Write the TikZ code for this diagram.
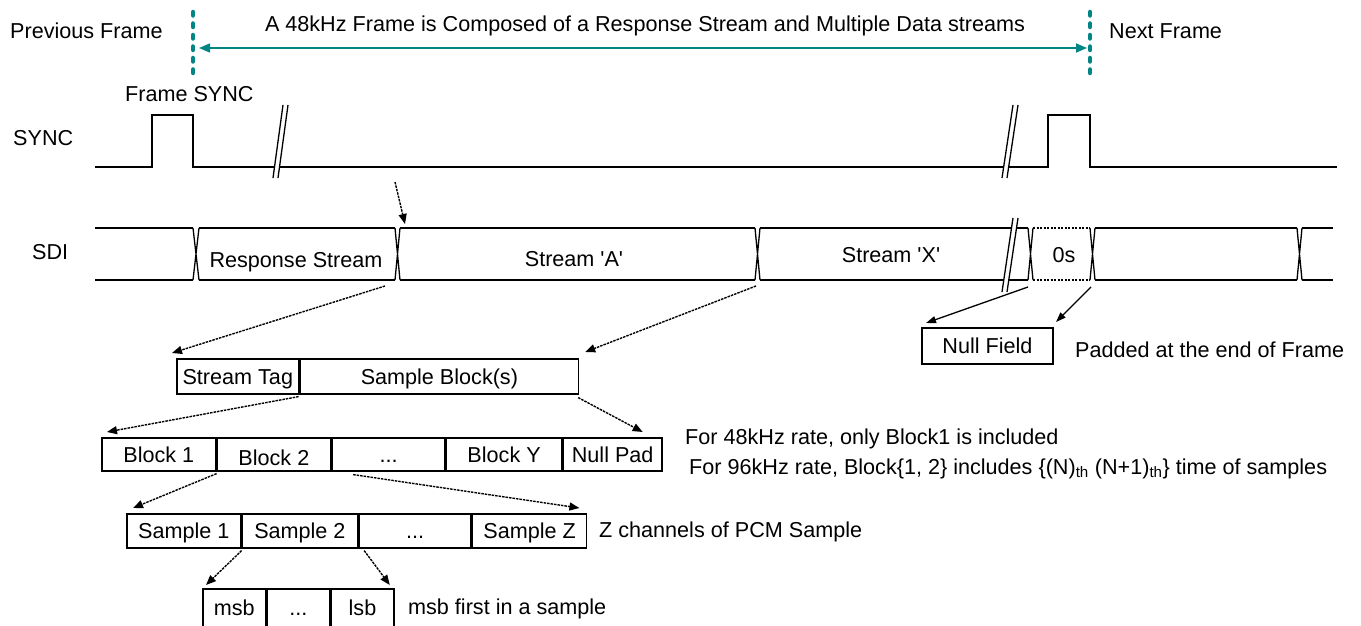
\documentclass[tikz,border=0pt]{standalone}
\usepackage{fontspec}
\setmainfont{Liberation Sans}
\usetikzlibrary{arrows.meta}
\definecolor{tealc}{RGB}{0,133,133}
\begin{document}
\begin{tikzpicture}[x=1pt,y=-1pt,
  font=\fontsize{21.6}{25}\selectfont,
  box/.style={draw, line width=1.6pt, inner sep=0pt, anchor=north west, text height=15.5pt, text depth=0pt},
  sig/.style={line width=1.3pt},
  dotsig/.style={line width=1.3pt, dash pattern=on 2pt off 1.5pt},
  ptr/.style={line width=1.4pt, dash pattern=on 2.5pt off 1pt, -{Triangle[length=10pt,width=8pt]}},
  sptr/.style={line width=1.3pt, -{Triangle[length=10pt,width=7pt]}},
  lbl/.style={inner sep=0pt, anchor=base west},
  brk/.style={fill=white, draw=none},
  framemark/.style={tealc, line width=4.5pt, line cap=round, dash pattern=on 3.5pt off 8pt}]

\useasboundingbox (0,0) rectangle (1361,626);

% ---- top frame markers
\coordinate (fl1) at (193,12); \coordinate (fl2) at (193,75);
\coordinate (fr1) at (1090,12); \coordinate (fr2) at (1090,75);
\draw[framemark] (fl1) -- (fl2);
\draw[framemark] (fr1) -- (fr2);
\coordinate (al) at (199,48); \coordinate (ar) at (1087,48);
\draw[tealc, line width=1.5pt, {Triangle[length=11pt,width=9pt]}-{Triangle[length=11pt,width=9pt]}] (al) -- (ar);

\node[lbl] (prev) at (10,39) {Previous Frame};
\node[lbl] (next) at (1109,39) {Next Frame};
\node[inner sep=0pt, anchor=base] (title) at (645,32) {A 48kHz Frame is Composed of a Response Stream and Multiple Data streams};
\node[lbl] (fsync) at (125,102) {Frame SYNC};
\node[lbl] (synclbl) at (13,145) {SYNC};
\node[lbl] (sdilbl) at (32,259) {SDI};

% ---- SYNC waveform
\draw[sig] (95,167) -- (152,167) -- (152,115) -- (193,115) -- (193,167) -- (1048,167) -- (1048,115) -- (1090,115) -- (1090,167) -- (1337,167);
\fill[brk] (283,105) -- (288,105) -- (278,178) -- (273,178) -- cycle;
\draw[sig] (283,105) -- (273,178) (288,105) -- (278,178);
\fill[brk] (1013,105) -- (1018,105) -- (1007,178) -- (1002,178) -- cycle;
\draw[sig] (1013,105) -- (1002,178) (1018,105) -- (1007,178);

% ---- SDI bus
\foreach \a/\b in {95/193, 199/395, 400/755, 760/1028, 1095/1297, 1302/1333}{
  \draw[sig] (\a,228) -- (\b,228) (\a,280) -- (\b,280);
}
\draw[dotsig] (1033,228) -- (1090,228) (1033,280) -- (1090,280);
\foreach \a/\b in {193/199, 395/400, 755/760, 1028/1033, 1090/1095, 1297/1302}{
  \draw[sig] (\a,228) -- (\b,280) (\b,228) -- (\a,280);
}
\fill[brk] (1013,218) -- (1018,218) -- (1007,292) -- (1002,292) -- cycle;
\draw[sig] (1013,218) -- (1002,292) (1018,218) -- (1007,292);

\node[inner sep=0pt, anchor=base] (rs) at (296,267) {Response Stream};
\node[inner sep=0pt, anchor=base] (sa) at (574,266) {Stream \textquotesingle A\textquotesingle};
\node[inner sep=0pt, anchor=base] (sx) at (891,262) {Stream \textquotesingle X\textquotesingle};
\node[inner sep=0pt, anchor=base] (zs) at (1064,262) {0s};

% ---- coordinates on the bus
\coordinate (top0) at (395,182);
\coordinate (top1) at (405,224);
\coordinate (rsb) at (385,286);
\coordinate (sab) at (756,286);
\coordinate (nfa) at (1028,287);
\coordinate (nfb) at (1091,287);

% ---- stream structure
\node[box, minimum width=122pt, minimum height=35pt] (tag) at (176,358) {Stream Tag};
\node[box, minimum width=278pt, minimum height=35pt] (blocks) at (tag.north east) {Sample Block(s)};

\node[box, minimum width=114pt, minimum height=33pt] (b1) at (101,437) {Block 1};
\node[box, minimum width=113pt, minimum height=33pt] (b2) at (b1.north east) {\raisebox{-3pt}{Block 2}};
\node[box, minimum width=113pt, minimum height=33pt] (bd) at (b2.north east) {...};
\node[box, minimum width=115pt, minimum height=33pt] (by) at (bd.north east) {Block Y};
\node[box, minimum width=99pt, minimum height=33pt] (np) at (by.north east) {Null Pad};

\node[box, minimum width=114pt, minimum height=34pt] (s1) at (126,513) {Sample 1};
\node[box, minimum width=115pt, minimum height=34pt] (s2) at (s1.north east) {Sample 2};
\node[box, minimum width=112pt, minimum height=34pt] (sd) at (s2.north east) {...};
\node[box, minimum width=114pt, minimum height=34pt] (sz) at (sd.north east) {Sample Z};

\node[box, minimum width=63pt, minimum height=38pt] (m1) at (202,588) {msb};
\node[box, minimum width=62pt, minimum height=38pt] (md) at (m1.north east) {...};
\node[box, minimum width=63pt, minimum height=38pt] (ml) at (md.north east) {lsb};

\node[box, line width=2pt, minimum width=131pt, minimum height=36pt] (nf) at (921,327) {Null Field};

% ---- side texts
\node[lbl] (pad) at (1075,357) {Padded at the end of Frame};
\node[lbl] (r48) at (685,444) {For 48kHz rate, only Block1 is included};
\node[lbl] (r96) at (689,474) {For 96kHz rate, Block\{1, 2\} includes \{(N)\textsubscript{th} (N+1)\textsubscript{th}\} time of samples};
\node[lbl] (zch) at (599,537) {Z channels of PCM Sample};
\node[lbl] (msbf) at (408,614) {msb first in a sample};

% ---- pointers
\draw[ptr] (top0) -- (top1);
\draw[ptr] (rsb) -- ([shift={(-4,-5)}]tag.north west);
\draw[ptr] (sab) -- ([shift={(6,-6)}]blocks.north east);
\draw[ptr] ([shift={(-1,2)}]tag.south east) -- ([shift={(6,-5)}]b1.north west);
\draw[ptr] ([shift={(-1,3)}]blocks.south east) -- ([shift={(30,-5)}]np.north);
\draw[ptr] ([shift={(0,2)}]b2.south west) -- ([shift={(7,-5)}]s1.north west);
\draw[ptr] ([shift={(22,3)}]bd.south west) -- ([shift={(-8,-5)}]sz.north east);
\draw[ptr] ([shift={(0,2)}]s2.south west) -- ([shift={(4,-3)}]m1.north west);
\draw[ptr] ([shift={(6,2)}]s2.south east) -- ([shift={(-5,-3)}]ml.north east);
\draw[sptr] (nfa) -- ([shift={(5,-4)}]nf.north west);
\draw[sptr] (nfb) -- ([shift={(2,-5)}]nf.north east);
\end{tikzpicture}
\end{document}
